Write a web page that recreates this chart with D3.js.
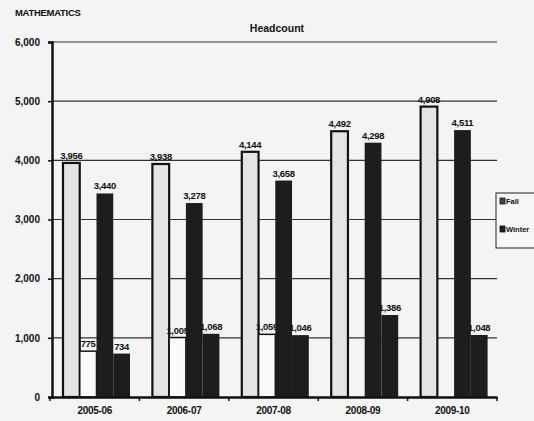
<!DOCTYPE html>
<html>
<head>
<meta charset="utf-8">
<script src="https://cdn.jsdelivr.net/npm/d3@7"></script>
<style>
  html, body { margin: 0; padding: 0; background: #f4f4f4; }
  svg { display: block; }
  text { font-family: "Liberation Sans", Arial, sans-serif; font-weight: bold; fill: #111; }
</style>
</head>
<body>
<svg id="chart" width="534" height="421"></svg>
<script>
// ---- data ----
const categories = ["2005-06", "2006-07", "2007-08", "2008-09", "2009-10"];
const fallHeadcount = [3956, 3938, 4144, 4492, 4908];
const fallOther = [775, 1005, 1059, null, null];
const winterHeadcount = [3440, 3278, 3658, 4298, 4511];
const winterOther = [734, 1068, 1046, 1386, 1048];
const yTicks = [0, 1000, 2000, 3000, 4000, 5000, 6000];
const legendLabels = ["Fall", "Winter"];
const chartTitle = "Headcount";
const subjectLabel = "MATHEMATICS";

const seriesKeys = ["fallHead", "fallOther", "winterHead", "winterOther"];
const seriesData = {
  fallHead: fallHeadcount,
  fallOther: fallOther,
  winterHead: winterHeadcount,
  winterOther: winterOther
};
const seriesStyle = {
  fallHead: { fill: "#e4e4e4", stroke: "#111", sw: 2.2 },
  fallOther: { fill: "#fafafa", stroke: "#111", sw: 1.5 },
  winterHead: { fill: "#1d1d1d", stroke: "#1d1d1d", sw: 0 },
  winterOther: { fill: "#1d1d1d", stroke: "#1d1d1d", sw: 0 }
};

const svg = d3.select("#chart");
const plotL = 52, plotR = 497, plotT = 42, plotB = 397;

const x = d3.scaleBand().domain(categories).range([50, plotR]).padding(0);
const xi = d3.scaleBand().domain(seriesKeys).range([13, 80]).padding(0);
const y = d3.scaleLinear().domain([0, 6000]).range([plotB, plotT]);
const fmt = d3.format(",");

// title texts
svg.append("text").attr("x", 15).attr("y", 16).attr("font-size", 9.5).attr("letter-spacing", -0.3).text(subjectLabel);
svg.append("text").attr("x", 277).attr("y", 32).attr("text-anchor", "middle").attr("font-size", 10.5).text(chartTitle);

// gridlines
svg.append("g").selectAll("line").data(yTicks.filter(d => d > 0)).join("line")
  .attr("x1", plotL).attr("x2", plotR)
  .attr("y1", d => y(d)).attr("y2", d => y(d))
  .attr("stroke", "#333").attr("stroke-width", 1.1);

// y axis
const yAxis = d3.axisLeft(y).tickValues(yTicks).tickFormat(fmt).tickSize(4).tickPadding(8);
const gy = svg.append("g").attr("transform", `translate(${plotL},0)`).call(yAxis);
gy.select(".domain").attr("stroke", "#111").attr("stroke-width", 2.5);
gy.selectAll(".tick line").attr("stroke", "#111").attr("stroke-width", 1.5);
gy.selectAll(".tick text").attr("font-size", 10).attr("font-weight", "bold")
  .attr("font-family", "Liberation Sans, Arial, sans-serif").attr("fill", "#111");

// bars with labels, drawn series by series so later bars overlap earlier labels
seriesKeys.forEach(key => {
  const vals = seriesData[key];
  const st = seriesStyle[key];
  const rows = categories.map((c, i) => ({ c, v: vals[i] })).filter(d => d.v != null);
  const g = svg.append("g");
  g.selectAll("rect").data(rows).join("rect")
    .attr("x", d => x(d.c) + xi(key))
    .attr("y", d => y(d.v))
    .attr("width", xi.bandwidth())
    .attr("height", d => y(0) - y(d.v))
    .attr("fill", st.fill)
    .attr("stroke", st.sw ? st.stroke : "none")
    .attr("stroke-width", st.sw);
  g.selectAll("text").data(rows).join("text")
    .attr("x", d => x(d.c) + xi(key) + xi.bandwidth() / 2)
    .attr("y", d => y(d.v) - 4)
    .attr("text-anchor", "middle")
    .attr("font-size", 9.5)
    .attr("letter-spacing", -0.3)
    .text(d => fmt(d.v));
});

// x axis
const xAxis = d3.axisBottom(x).tickSize(0).tickPadding(10);
const gx = svg.append("g").attr("transform", `translate(0,${plotB})`).call(xAxis);
gx.select(".domain").attr("stroke", "#111").attr("stroke-width", 2.5);
gx.selectAll(".tick text").attr("font-size", 10).attr("font-weight", "bold")
  .attr("font-family", "Liberation Sans, Arial, sans-serif").attr("fill", "#111")
  .attr("letter-spacing", -0.3);
// category boundary tick marks
svg.append("g").selectAll("line").data(categories.concat(["end"])).join("line")
  .attr("x1", (d, i) => i < categories.length ? x(d) : x.range()[1])
  .attr("x2", (d, i) => i < categories.length ? x(d) : x.range()[1])
  .attr("y1", plotB).attr("y2", plotB + 4)
  .attr("stroke", "#111").attr("stroke-width", 1.5);

// legend
const lg = svg.append("g").attr("transform", "translate(496,193)");
lg.append("rect").attr("width", 45).attr("height", 55).attr("fill", "#f6f6f6")
  .attr("stroke", "#222").attr("stroke-width", 1);
const legendFill = ["#444", "#1d1d1d"];
legendLabels.forEach((lab, i) => {
  const yy = 8 + i * 28;
  lg.append("rect").attr("x", 4).attr("y", yy - 3).attr("width", 5).attr("height", 6)
    .attr("fill", legendFill[i]).attr("stroke", "#111").attr("stroke-width", 0.8);
  lg.append("text").attr("x", 10).attr("y", yy + 3).attr("font-size", 7.5).text(lab);
});
</script>
</body>
</html>
